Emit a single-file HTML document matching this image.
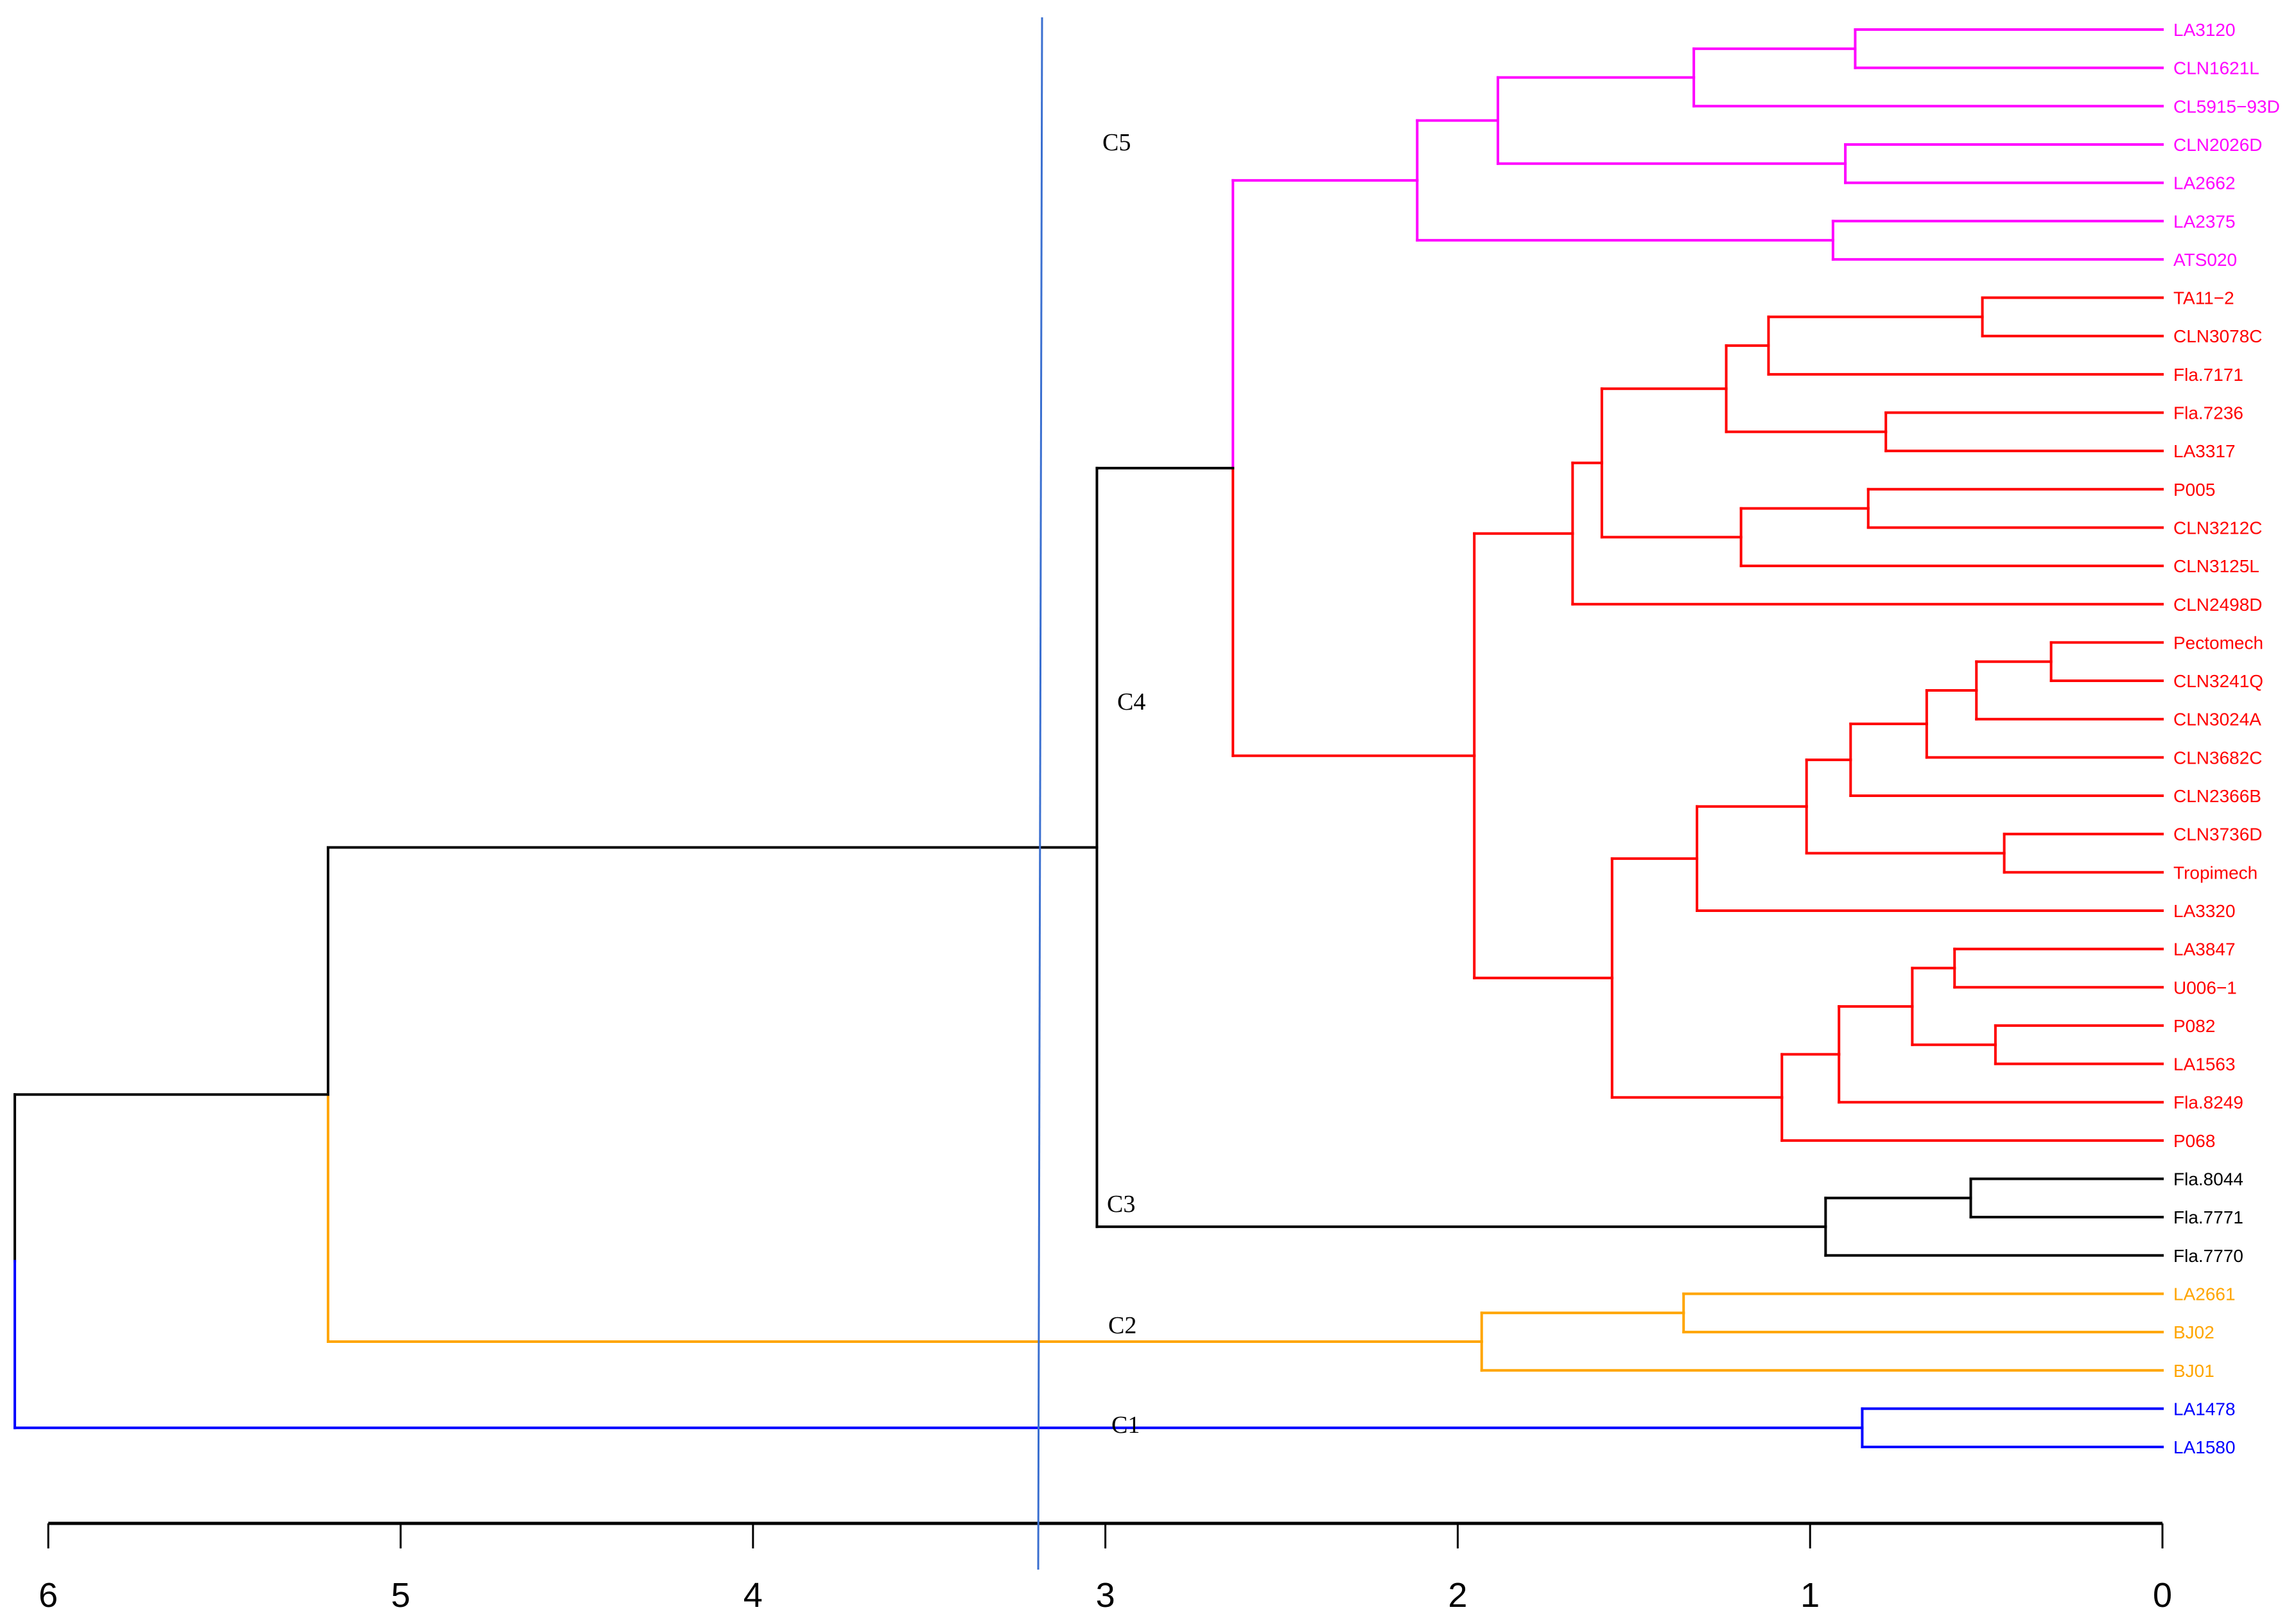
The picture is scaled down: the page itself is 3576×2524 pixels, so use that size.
<!DOCTYPE html>
<html><head><meta charset="utf-8"><style>
html,body{margin:0;padding:0;background:#fff;}
svg{display:block;}
</style></head><body>
<svg id="chart" width="3576" height="2524" viewBox="0 0 3576 2524" xmlns="http://www.w3.org/2000/svg">
<rect width="3576" height="2524" fill="#fff"/>
<g id="links"></g>
<g id="labels"></g>
<g id="axis"></g>
<line x1="1623" y1="27" x2="1617" y2="2444" stroke="#3a6fd0" stroke-width="3"/>
<g font-family="Liberation Serif, serif" font-size="38" fill="#000">
<text x="1717" y="234">C5</text>
<text x="1740" y="1105">C4</text>
<text x="1724" y="1887">C3</text>
<text x="1726" y="2076">C2</text>
<text x="1731" y="2231">C1</text>
</g>
</svg>
<script>
const leafNames = ["LA3120","CLN1621L","CL5915\u221293D","CLN2026D","LA2662","LA2375","ATS020","TA11\u22122","CLN3078C","Fla.7171","Fla.7236","LA3317","P005","CLN3212C","CLN3125L","CLN2498D","Pectomech","CLN3241Q","CLN3024A","CLN3682C","CLN2366B","CLN3736D","Tropimech","LA3320","LA3847","U006\u22121","P082","LA1563","Fla.8249","P068","Fla.8044","Fla.7771","Fla.7770","LA2661","BJ02","BJ01","LA1478","LA1580"];
const leafCluster = [5,5,5,5,5,5,5,4,4,4,4,4,4,4,4,4,4,4,4,4,4,4,4,4,4,4,4,4,4,4,3,3,3,2,2,2,1,1];
const clusterColors = {1:"#0000FF",2:"#FFA500",3:"#000000",4:"#FF0000",5:"#FF00FF"};
// hclust-style merges: negative = leaf (1-based), positive = earlier merge (1-based)
const mergeLeft  = [-1,1,-4,2,-6,4,-8,7,-11,8,-13,11,10,13,-17,15,16,17,-22,18,20,-25,-27,22,24,25,21,14,6,-31,30,29,-34,33,32,-37,35];
const mergeRight = [-2,-3,-5,3,-7,5,-9,-10,-12,9,-14,-15,12,-16,-18,-19,-20,-21,-23,19,-24,-26,-28,23,-29,-30,26,27,28,-32,-33,31,-35,-36,34,-38,36];
const mergeHeight = [0.872,1.33,0.90,1.886,0.935,2.115,0.511,1.118,0.785,1.238,0.835,1.196,1.591,1.674,0.316,0.528,0.669,0.885,0.449,1.01,1.321,0.59,0.474,0.71,0.918,1.08,1.562,1.953,2.638,0.544,0.956,3.024,1.359,1.932,5.206,0.852,6.095];
const axisTicks = [6,5,4,3,2,1,0];

const NS="http://www.w3.org/2000/svg";
const X0=3368, UNIT=548.8, Y0=46, DY=59.65;
function xScale(h){return X0-h*UNIT;}
function yScale(i){return Y0+i*DY;}
const links=document.getElementById('links');
const labels=document.getElementById('labels');
const axis=document.getElementById('axis');

const nodes=[];
function nodeInfo(ref){
  if(ref<0){const i=-ref-1;return {y:yScale(i),h:0,cl:leafCluster[i]};}
  return nodes[ref-1];
}
function line(x1,y1,x2,y2,c,name){
  const l=document.createElementNS(NS,'line');
  l.setAttribute('x1',x1);l.setAttribute('y1',y1);l.setAttribute('x2',x2);l.setAttribute('y2',y2);
  l.setAttribute('stroke',c);l.setAttribute('stroke-width',4);l.setAttribute('stroke-linecap','square');
  
  
  links.appendChild(l);
}
for(let k=0;k<mergeHeight.length;k++){
  const a=nodeInfo(mergeLeft[k]), b=nodeInfo(mergeRight[k]);
  if(!a||!b) continue;
  const h=mergeHeight[k], px=xScale(h), py=(a.y+b.y)/2;
  [a,b].forEach(ch=>{
    const c=ch.cl?clusterColors[ch.cl]:"#000000";
    line(px,py,px,ch.y,c,'branch-vertical');
    line(px,ch.y,xScale(ch.h),ch.y,c,'branch-horizontal');
  });
  nodes.push({y:py,h:h,cl:(a.cl&&a.cl===b.cl)?a.cl:0});
}
leafNames.forEach((n,i)=>{
  const t=document.createElementNS(NS,'text');
  t.setAttribute('x',3385);t.setAttribute('y',yScale(i)+10);
  t.setAttribute('font-family','Liberation Sans, sans-serif');t.setAttribute('font-size',28);
  t.setAttribute('fill',clusterColors[leafCluster[i]]);
  t.textContent=n;
  
  
  labels.appendChild(t);
});
const AY=2372;
const al=document.createElementNS(NS,'line');
al.setAttribute('x1',xScale(6));al.setAttribute('x2',xScale(0));al.setAttribute('y1',AY);al.setAttribute('y2',AY);
al.setAttribute('stroke','#000');al.setAttribute('stroke-width',5);


axis.appendChild(al);
axisTicks.forEach(v=>{
  const tk=document.createElementNS(NS,'line');
  tk.setAttribute('x1',xScale(v));tk.setAttribute('x2',xScale(v));tk.setAttribute('y1',AY);tk.setAttribute('y2',2411);
  tk.setAttribute('stroke','#000');tk.setAttribute('stroke-width',3);
  
  
  axis.appendChild(tk);
  const t=document.createElementNS(NS,'text');
  t.setAttribute('x',xScale(v));t.setAttribute('y',2502);t.setAttribute('text-anchor','middle');
  t.setAttribute('font-family','Liberation Sans, sans-serif');t.setAttribute('font-size',54);
  t.textContent=v;
  
  
  axis.appendChild(t);
});
</script>
</body></html>
